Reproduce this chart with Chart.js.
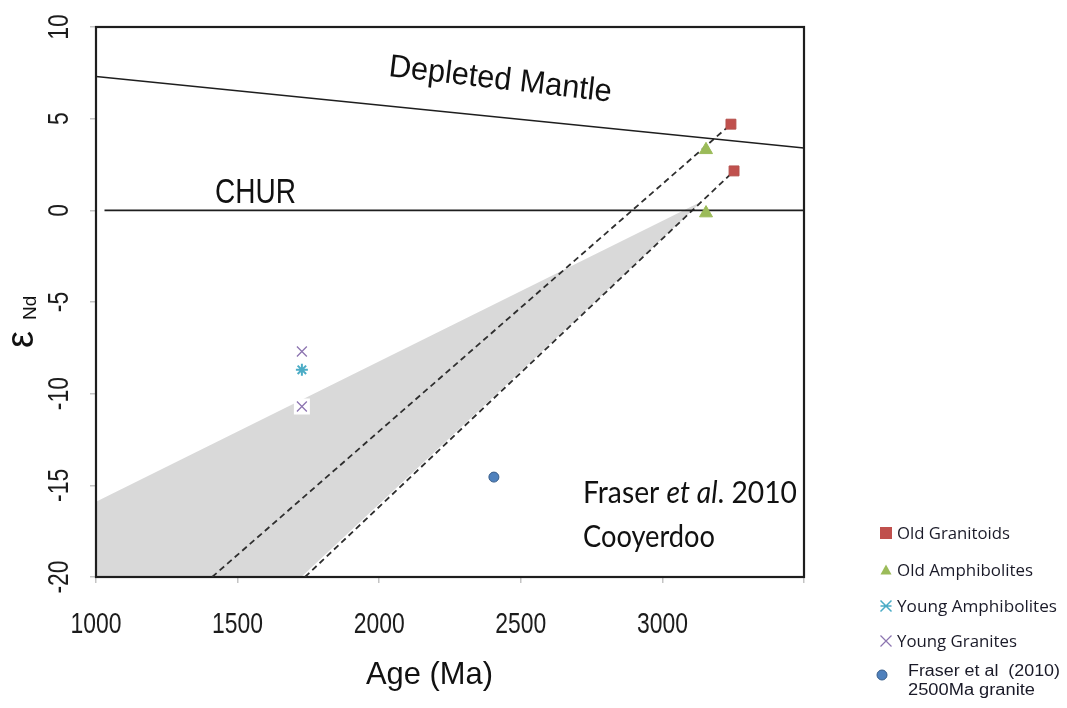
<!DOCTYPE html>
<html>
<head>
<meta charset="utf-8">
<script src="https://cdn.jsdelivr.net/npm/chart.js@4.4.1/dist/chart.umd.min.js"></script>
<style>
  html, body { margin: 0; background: #fff; }
  canvas { display: block; }
</style>
</head>
<body>
<canvas id="plot" width="1067" height="708"></canvas>
<script>
// ---- axes ----
const xTicks = [1000, 1500, 2000, 2500, 3000, 3500];
const xTickLabels = ["1000", "1500", "2000", "2500", "3000", ""];
const yTicks = [10, 5, 0, -5, -10, -15, -20];
const yTickLabels = ["10", "5", "0", "-5", "-10", "-15", "-20"];

// ---- reference curves ----
const depletedMantle = [{ x: 1000, y: 7.3 }, { x: 3500, y: 3.4 }];
const chur = [{ x: 1030, y: 0 }, { x: 3500, y: 0 }];
const modelAgeA = [{ x: 1410, y: -20 }, { x: 3242, y: 4.7 }];
const modelAgeB = [{ x: 1738, y: -20 }, { x: 3253, y: 2.15 }];
const fieldOutline = [{ x: 1000, y: -15.9 }, { x: 3140, y: 0.5 }, { x: 1725, y: -20 }, { x: 1000, y: -20 }];

// ---- samples ----
const oldGranitoids = [{ x: 3242, y: 4.7 }, { x: 3253, y: 2.15 }];
const oldAmphibolites = [{ x: 3154, y: 3.3 }, { x: 3154, y: -0.15 }];
const youngAmphibolites = [{ x: 1727, y: -8.7 }];
const youngGranites = [{ x: 1727, y: -7.7 }, { x: 1727, y: -10.7 }];
const fraserGranite = [{ x: 2405, y: -14.55 }];

const legendLabels = ["Old Granitoids", "Old Amphibolites", "Young Amphibolites", "Young Granites"];

const RED = "#c0504d", GREEN = "#9bbb59", CYAN = "#4bacc6", PURPLE = "#8c74b0", BLUE = "#4f81bd";

// text squeezed/stretched to a given width, optionally rotated
function fitText(ctx, str, x, y, width, font, rot) {
  ctx.save();
  ctx.font = font;
  const w = ctx.measureText(str).width;
  ctx.translate(x, y);
  if (rot) ctx.rotate(rot);
  ctx.scale(width / w, 1);
  ctx.fillText(str, 0, 0);
  ctx.restore();
}

function scaledText(ctx, str, x, y, sx, font, rot, align) {
  ctx.save();
  ctx.font = font;
  ctx.textAlign = align || "left";
  ctx.translate(x, y);
  if (rot) ctx.rotate(rot);
  ctx.scale(sx, 1);
  ctx.fillText(str, 0, 0);
  ctx.restore();
}

function marker(ctx, style, x, y, r) {
  ctx.save();
  ctx.beginPath();
  if (style === "rect") {
    ctx.fillStyle = RED;
    ctx.fillRect(x - r, y - r, r * 2, r * 2);
  } else if (style === "triangle") {
    ctx.fillStyle = GREEN;
    ctx.moveTo(x, y - r); ctx.lineTo(x + r, y + r * 0.8); ctx.lineTo(x - r, y + r * 0.8);
    ctx.closePath(); ctx.fill();
  } else if (style === "star") {
    ctx.strokeStyle = CYAN; ctx.lineWidth = 1.5;
    ctx.moveTo(x - r, y - r); ctx.lineTo(x + r, y + r);
    ctx.moveTo(x - r, y + r); ctx.lineTo(x + r, y - r);
    ctx.moveTo(x - r, y); ctx.lineTo(x + r, y);
    ctx.stroke();
  } else if (style === "crossRot") {
    ctx.strokeStyle = PURPLE; ctx.lineWidth = 1.2;
    ctx.moveTo(x - r, y - r); ctx.lineTo(x + r, y + r);
    ctx.moveTo(x - r, y + r); ctx.lineTo(x + r, y - r);
    ctx.stroke();
  } else {
    ctx.fillStyle = BLUE; ctx.strokeStyle = "#385d8a"; ctx.lineWidth = 1;
    ctx.arc(x, y, r, 0, Math.PI * 2); ctx.fill(); ctx.stroke();
  }
  ctx.restore();
}

// grey field and plot frame under the data
const fieldPlugin = {
  id: "field",
  beforeDatasetsDraw(chart) {
    const { ctx, chartArea: a, scales: { x, y } } = chart;
    ctx.save();
    ctx.beginPath();
    ctx.rect(a.left, a.top, a.width, a.height);
    ctx.clip();
    ctx.beginPath();
    fieldOutline.forEach((p, i) => {
      const px = x.getPixelForValue(p.x), py = y.getPixelForValue(p.y);
      if (i) ctx.lineTo(px, py); else ctx.moveTo(px, py);
    });
    ctx.closePath();
    ctx.fillStyle = "#d9d9d9";
    ctx.fill();

    // white backing behind the lower granite cross
    const low = youngGranites[1];
    ctx.fillStyle = "#fff";
    ctx.fillRect(x.getPixelForValue(low.x) - 8, y.getPixelForValue(low.y) - 8, 16, 16);
    ctx.restore();

    ctx.save();
    ctx.strokeStyle = "#1e1e1e";
    ctx.lineWidth = 2.2;
    ctx.strokeRect(a.left, a.top, a.width, a.height);
    ctx.restore();
  }
};

// tick labels, titles, annotations and legend
const decorPlugin = {
  id: "decor",
  afterDraw(chart) {
    const { ctx, scales: { x, y } } = chart;
    ctx.save();
    ctx.fillStyle = "#1c1c1c";
    ctx.textBaseline = "alphabetic";

    xTicks.forEach((v, i) => {
      if (!xTickLabels[i]) return;
      scaledText(ctx, xTickLabels[i], x.getPixelForValue(v), 633, 0.79, "29px 'Liberation Sans'", 0, "center");
    });
    yTicks.forEach((v, i) => {
      scaledText(ctx, yTickLabels[i], 68, y.getPixelForValue(v), 0.79, "29px 'Liberation Sans'", -Math.PI / 2, "center");
    });

    // axis titles
    ctx.fillStyle = "#111";
    fitText(ctx, "Age (Ma)", 366, 684, 127, "32px 'Liberation Sans'");
    ctx.save();
    ctx.translate(33, 348);
    ctx.rotate(-Math.PI / 2);
    ctx.font = "38px 'Liberation Sans'";
    ctx.fillText("\u03b5", 0, 0);
    ctx.font = "19px 'Liberation Sans'";
    ctx.fillText("Nd", 28, 3);
    ctx.restore();

    // curve labels
    fitText(ctx, "Depleted Mantle", 388, 76, 224, "32px 'Liberation Sans'", 0.115);
    fitText(ctx, "CHUR", 215, 203, 81, "35px 'Liberation Sans'");

    // source note
    ctx.save();
    const big = "30px Lato", bigIt = "italic 30px Lato";
    ctx.font = big;
    const w1 = ctx.measureText("Fraser ").width;
    ctx.font = bigIt;
    const w2 = ctx.measureText("et al").width;
    ctx.font = big;
    const w3 = ctx.measureText(". 2010").width;
    const sx = 214 / (w1 + w2 + w3);
    ctx.translate(583, 503);
    ctx.scale(sx, 1);
    ctx.fillText("Fraser ", 0, 0);
    ctx.font = bigIt;
    ctx.fillText("et al", w1, 0);
    ctx.font = big;
    ctx.fillText(". 2010", w1 + w2, 0);
    ctx.restore();
    fitText(ctx, "Cooyerdoo", 583, 547, 132, "30px Lato");

    // legend
    const styles = ["rect", "triangle", "star", "crossRot"];
    const rowsY = [533, 570, 606, 641];
    const widths = [113, 136, 160, 120];
    ctx.fillStyle = "#1a1a28";
    ctx.textBaseline = "middle";
    styles.forEach((s, i) => {
      marker(ctx, s, 886, rowsY[i], s === "rect" ? 6 : 5.5);
      fitText(ctx, legendLabels[i], 897, rowsY[i] + 1, widths[i], "16px 'Open Sans'");
    });
    marker(ctx, "circle", 882, 675, 5);
    fitText(ctx, "Fraser et al  (2010)", 908, 672, 152, "16px 'Liberation Sans'");
    fitText(ctx, "2500Ma granite", 908, 691, 127, "16px 'Liberation Sans'");
    ctx.restore();
  }
};

const lineSet = (data, extra) => Object.assign({
  data, showLine: true, pointRadius: 0, borderColor: "#1e1e1e", borderWidth: 1.6,
  fill: false, order: 10
}, extra);

const pointSet = (data, style, bg, border, r, bw) => ({
  data, pointStyle: style, pointRadius: r, pointBackgroundColor: bg,
  pointBorderColor: border, pointBorderWidth: bw, showLine: false, order: 1
});

new Chart(document.getElementById("plot"), {
  type: "scatter",
  data: {
    datasets: [
      lineSet(depletedMantle),
      lineSet(chur),
      lineSet(modelAgeA, { borderDash: [6, 4], borderColor: "#2e2e2e", borderWidth: 1.8 }),
      lineSet(modelAgeB, { borderDash: [6, 4], borderColor: "#2e2e2e", borderWidth: 1.8 }),
      pointSet(oldGranitoids, "rect", RED, "#b5504c", 7, 1),
      pointSet(oldAmphibolites, "triangle", GREEN, GREEN, 7.5, 1),
      pointSet(youngAmphibolites, "star", CYAN, CYAN, 6, 2),
      pointSet(youngGranites, "crossRot", PURPLE, PURPLE, 7, 1.3),
      pointSet(fraserGranite, "circle", BLUE, "#385d8a", 5, 1)
    ]
  },
  options: {
    responsive: false,
    animation: false,
    devicePixelRatio: 1,
    layout: { padding: { top: 27, right: 263, left: 0, bottom: 0 } },
    plugins: { legend: { display: false }, tooltip: { enabled: false } },
    scales: {
      x: {
        type: "linear", min: 1000, max: 3500,
        afterBuildTicks: s => { s.ticks = xTicks.map(v => ({ value: v })); },
        afterFit: s => { s.height = 131; },
        ticks: { display: false },
        grid: { drawOnChartArea: false, tickLength: 6, color: "#c4c4c4", lineWidth: 1.5 },
        border: { display: false }
      },
      y: {
        type: "linear", min: -20, max: 10,
        afterBuildTicks: s => { s.ticks = yTicks.map(v => ({ value: v })); },
        afterFit: s => { s.width = 96; },
        ticks: { display: false },
        grid: { drawOnChartArea: false, tickLength: 6, color: "#c4c4c4", lineWidth: 1.5 },
        border: { display: false }
      }
    }
  },
  plugins: [fieldPlugin, decorPlugin]
});
</script>
</body>
</html>
